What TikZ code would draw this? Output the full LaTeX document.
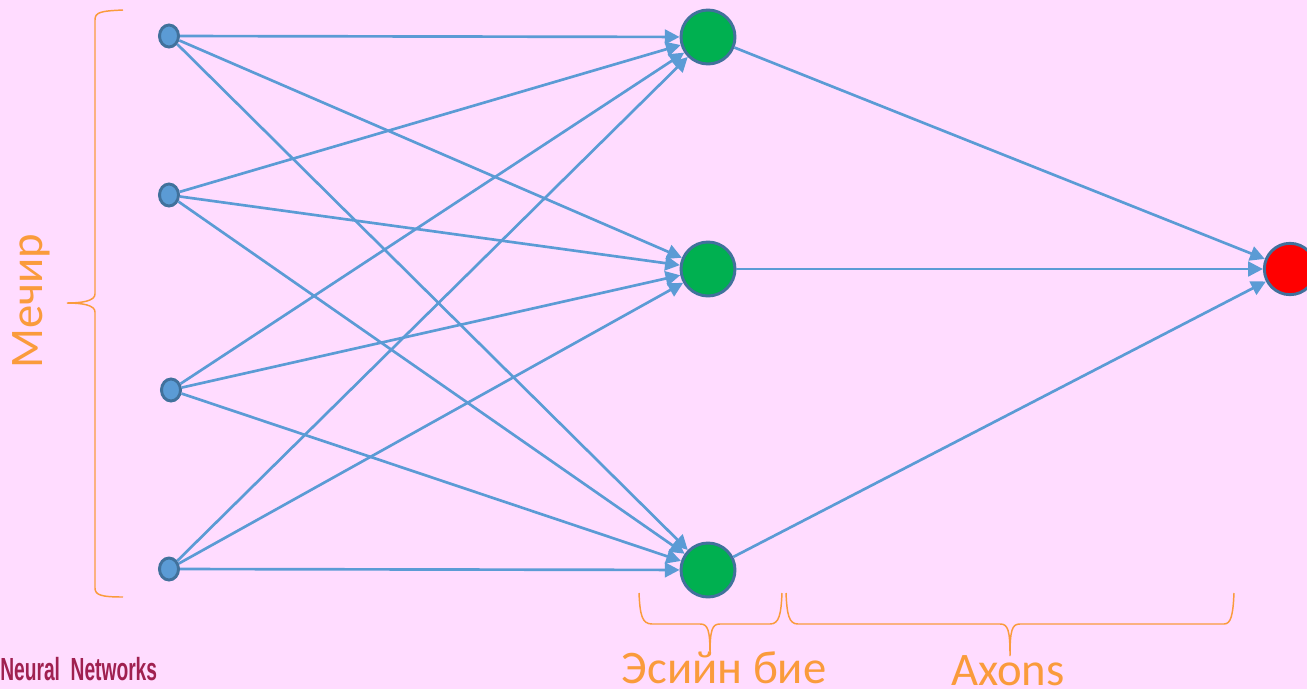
\documentclass[tikz,border=0pt]{standalone}
\usepackage{fontspec}
\setmainfont{Carlito}
\newfontfamily\narrowfont{Liberation Sans}
\usetikzlibrary{arrows.meta,shapes.geometric}
\definecolor{bg}{RGB}{255,220,255}
\definecolor{wire}{RGB}{91,155,213}
\definecolor{rim}{RGB}{65,113,156}
\definecolor{hid}{RGB}{0,176,80}
\definecolor{outc}{RGB}{255,0,0}
\definecolor{bracec}{RGB}{250,155,60}
\definecolor{titlec}{RGB}{160,32,80}

\begin{document}
\begin{tikzpicture}[x=0.75pt,y=-0.75pt,
  inp/.style={ellipse, draw=rim, fill=wire, line width=2.2pt,
    minimum width=14.3pt, minimum height=16.5pt, inner sep=0pt},
  hidn/.style={circle, draw=rim, fill=hid, line width=2.2pt,
    minimum size=40.5pt, inner sep=0pt},
  outn/.style={circle, draw=rim, fill=outc, line width=2.2pt,
    minimum size=38.5pt, inner sep=0pt},
  link/.style={draw=wire, line width=2pt,
    -{Triangle[length=11pt,width=11pt]}},
  bracepath/.style={draw=bracec, line width=1.1pt},
  lbl/.style={text=bracec, font=\fontsize{35pt}{40pt}\selectfont, inner sep=0pt}
]
% background and page size
\fill[bg] (0,0) rectangle (1307,689);
\useasboundingbox (0,0) rectangle (1307,689);

% input layer
\node[inp] (i1) at (169,36) {};
\node[inp] (i2) at (169,195) {};
\node[inp] (i3) at (171,390) {};
\node[inp] (i4) at (169,569) {};

% hidden layer
\node[hidn] (h1) at (708,37) {};
\node[hidn] (h2) at (708,269) {};
\node[hidn] (h3) at (708,570) {};

% output neuron
\node[outn] (o) at (1290,269) {};

% connections input -> hidden
\foreach \i in {1,2,3,4}{
  \foreach \h in {1,2,3}{
    \draw[link] (i\i) -- (h\h);
  }
}
% connections hidden -> output
\foreach \h in {1,2,3}{
  \draw[link] (h\h) -- (o);
}

% left brace
\draw[bracepath] (123,10) .. controls (101,11) and (95,12) .. (95,20)
  -- (95,294) .. controls (95,301) and (82,303) .. (67,303)
  .. controls (82,303) and (95,305) .. (95,312)
  -- (95,588) .. controls (95,595) and (101,597) .. (123,597);

% bottom braces
\draw[bracepath] (639,593) .. controls (640,615) and (642,624) .. (652,624)
  -- (700,624) .. controls (708,624) and (710,630) .. (710,655)
  .. controls (710,630) and (712,624) .. (720,624)
  -- (770,624) .. controls (779,624) and (781,615) .. (782,593);
\draw[bracepath] (786,593) .. controls (787,615) and (789,624) .. (798,624)
  -- (1000,624) .. controls (1008,624) and (1010,630) .. (1010,656)
  .. controls (1010,630) and (1012,624) .. (1020,624)
  -- (1224,624) .. controls (1231,624) and (1233,615) .. (1234,593);

% labels
\node[lbl, rotate=90, anchor=base] (lin) at (42,301) {Мечир};
\node[lbl, anchor=base] (lhid) at (724,683) {Эсийн бие};
\node[lbl, anchor=base] (lax) at (1008,685) {Axons};
\node[anchor=base west, inner sep=0pt, text=titlec,
  font=\narrowfont\bfseries\fontsize{24pt}{27pt}\selectfont] (ttl) at (0,680)
  {\scalebox{0.6}[1]{Neural\ \ Networks}};
\end{tikzpicture}
\end{document}
